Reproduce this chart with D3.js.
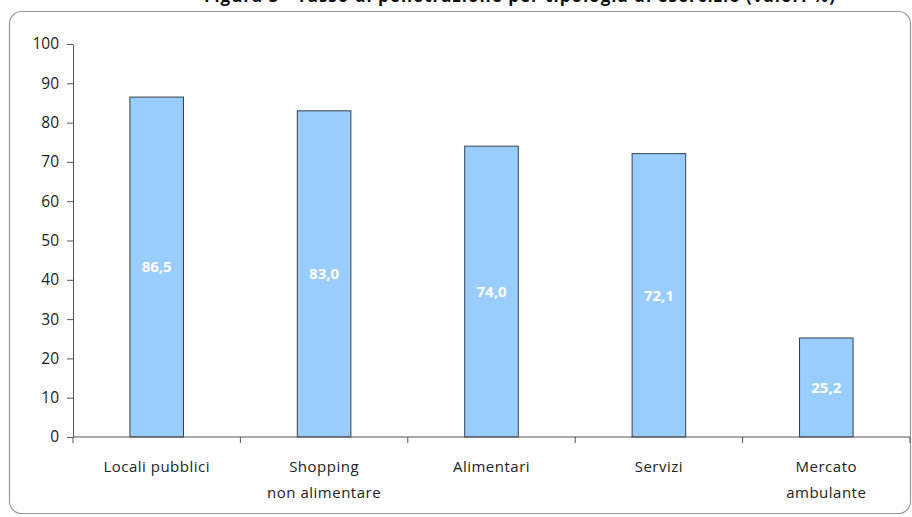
<!DOCTYPE html>
<html>
<head>
<meta charset="utf-8">
<script src="https://cdn.jsdelivr.net/npm/d3@7"></script>
<style>
  html, body { margin: 0; padding: 0; background: #fff; }
  svg { display: block; }
  text { font-family: "Open Sans", "DejaVu Sans", sans-serif; }
</style>
</head>
<body>
<div id="chart"></div>
<script>
// Tasso per tipologia di esercizio (valori %)
const categories = [
  ["Locali pubblici"],
  ["Shopping", "non alimentare"],
  ["Alimentari"],
  ["Servizi"],
  ["Mercato", "ambulante"]
];
const values = [86.5, 83.0, 74.0, 72.1, 25.2];
const yTicks = [0, 10, 20, 30, 40, 50, 60, 70, 80, 90, 100];
const title = "Figura 3 - Tasso di penetrazione per tipologia di esercizio (valori %)";

const W = 912, H = 517;
const margin = { left: 73, right: 2, top: 44, bottom: 80 };

const svg = d3.select("#chart").append("svg")
  .attr("width", W).attr("height", H);

// chart frame with rounded corners
svg.append("rect")
  .attr("x", 9.5).attr("y", 11.5)
  .attr("width", 901).attr("height", 502)
  .attr("rx", 12).attr("ry", 12)
  .attr("fill", "#fff")
  .attr("stroke", "#9a9a9a")
  .attr("stroke-width", 1.2);

// title, running above the top edge of the page
svg.append("text")
  .attr("x", 520).attr("y", 1.5)
  .attr("text-anchor", "middle")
  .attr("font-weight", "bold")
  .attr("font-size", 17)
  .attr("fill", "#111")
  .style("letter-spacing", "1px")
  .text(title);

const x = d3.scaleBand()
  .domain(d3.range(categories.length))
  .range([margin.left, W - margin.right]);

const y = d3.scaleLinear()
  .domain([0, 100])
  .range([437, margin.top]);

// bars
const barW = x.bandwidth() * 0.32;
const g = svg.append("g");
g.selectAll("rect.bar")
  .data(values)
  .join("rect")
  .attr("class", "bar")
  .attr("x", (d, i) => x(i) + (x.bandwidth() - barW) / 2)
  .attr("y", d => y(d))
  .attr("width", barW)
  .attr("height", d => y(0) - y(d))
  .attr("fill", "#99ccff")
  .attr("stroke", "#3a3f48")
  .attr("stroke-width", 1);

// value labels at mid-bar
g.selectAll("text.val")
  .data(values)
  .join("text")
  .attr("class", "val")
  .attr("x", (d, i) => x(i) + x.bandwidth() / 2)
  .attr("y", d => (y(d) + y(0)) / 2)
  .attr("dy", "0.35em")
  .attr("text-anchor", "middle")
  .attr("font-weight", "bold")
  .attr("font-size", 15)
  .attr("fill", "#fff")
  .text(d => d.toFixed(1).replace(".", ","));

// y axis
const yAxis = svg.append("g")
  .attr("transform", `translate(${margin.left},0)`)
  .call(d3.axisLeft(y).tickValues(yTicks).tickSize(6).tickPadding(8).tickSizeOuter(0));
yAxis.select(".domain").attr("stroke", "#555");
yAxis.selectAll(".tick line").attr("stroke", "#555");
yAxis.selectAll(".tick text")
  .attr("font-size", 15.5)
  .attr("fill", "#222")
  .style("font-family", '"Open Sans", sans-serif');

// x axis with ticks on band boundaries
const xAxisG = svg.append("g").attr("transform", `translate(0,${y(0)})`);
xAxisG.append("line")
  .attr("x1", margin.left).attr("x2", W - margin.right)
  .attr("stroke", "#555");
const bounds = d3.range(categories.length + 1).map(i =>
  i < categories.length ? x(i) : x(categories.length - 1) + x.bandwidth());
xAxisG.selectAll("line.tk")
  .data(bounds)
  .join("line")
  .attr("class", "tk")
  .attr("x1", d => d).attr("x2", d => d)
  .attr("y1", 0).attr("y2", 6)
  .attr("stroke", "#555");

// category labels
const lab = svg.append("g").selectAll("text.cat")
  .data(categories)
  .join("text")
  .attr("class", "cat")
  .attr("text-anchor", "middle")
  .attr("font-size", 15)
  .attr("fill", "#222")
  .style("letter-spacing", "0.5px");
lab.each(function(lines, i) {
  const t = d3.select(this);
  lines.forEach((ln, k) => {
    t.append("tspan")
      .attr("x", x(i) + x.bandwidth() / 2)
      .attr("y", 472 + k * 26)
      .text(ln);
  });
});
</script>
</body>
</html>
